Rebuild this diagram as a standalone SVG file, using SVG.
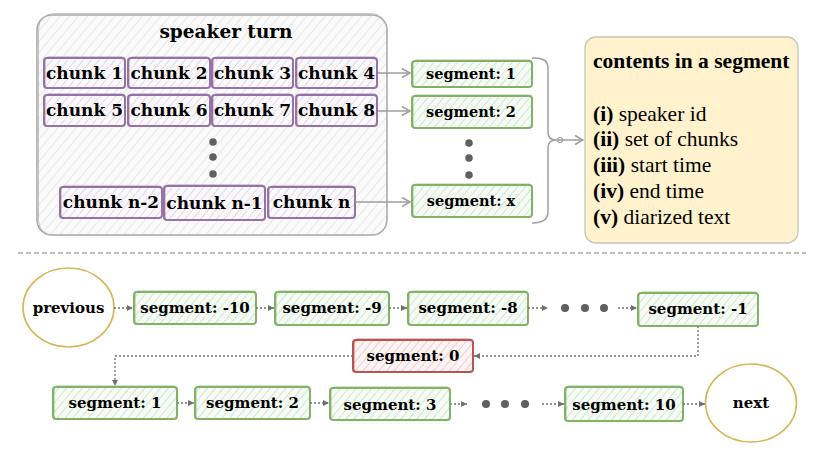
<svg xmlns="http://www.w3.org/2000/svg" width="827" height="463" viewBox="0 0 827 463">
<style>
  text { font-family: "DejaVu Serif", "Liberation Serif", serif; font-weight: bold; fill: #000; }
  .c { font-size: 17px; text-anchor: middle; }
  .t { font-size: 18.5px; text-anchor: middle; }
  .st { font-size: 14.5px; text-anchor: middle; }
  .sb { font-size: 15px; text-anchor: middle; }
  .ct { font-family: "Liberation Serif", "Times New Roman", serif; font-size: 21.5px; font-weight: normal; }
  .ct .b { font-weight: bold; }
  .chunk { fill: url(#hp); stroke: #9673a6; stroke-width: 2; }
  .seg { fill: url(#hg); stroke: #82b366; stroke-width: 2; }
  .red { fill: url(#hr); stroke: #b85450; stroke-width: 2; }
  .sk { fill: none; stroke-width: 1; opacity: 0.7; }
  .dot { fill: #606060; }
  .gl { fill: none; stroke: #9e9e9e; stroke-width: 1.5; }
  .dl { fill: none; stroke: #707070; stroke-width: 1.3; stroke-dasharray: 2 2; }
  .ell { fill: #fff; stroke: #d6b656; stroke-width: 1.6; }
</style>
<defs>
  <pattern id="hgray" patternUnits="userSpaceOnUse" width="7" height="7" patternTransform="rotate(40)">
    <rect width="7" height="7" fill="#fafafa"/>
    <line x1="0" y1="0" x2="0" y2="7" stroke="#dedede" stroke-width="1.2"/>
  </pattern>
  <pattern id="hp" patternUnits="userSpaceOnUse" width="6" height="6" patternTransform="rotate(40)">
    <rect width="6" height="6" fill="#fbf9fc"/>
    <line x1="0" y1="0" x2="0" y2="6" stroke="#d6c8de" stroke-width="1.3"/>
  </pattern>
  <pattern id="hg" patternUnits="userSpaceOnUse" width="6" height="6" patternTransform="rotate(40)">
    <rect width="6" height="6" fill="#f6fbf5"/>
    <line x1="0" y1="0" x2="0" y2="6" stroke="#bfdcb9" stroke-width="1.3"/>
  </pattern>
  <pattern id="hr" patternUnits="userSpaceOnUse" width="6" height="6" patternTransform="rotate(40)">
    <rect width="6" height="6" fill="#fdf5f5"/>
    <line x1="0" y1="0" x2="0" y2="6" stroke="#efb6b3" stroke-width="1.3"/>
  </pattern>
  <marker id="oa" markerWidth="12" markerHeight="12" refX="10" refY="6" orient="auto" markerUnits="userSpaceOnUse">
    <path d="M2,1.5 L10,6 L2,10.5" fill="none" stroke="#9e9e9e" stroke-width="1.5"/>
  </marker>
  <marker id="fa" markerWidth="8" markerHeight="8" refX="7" refY="4" orient="auto" markerUnits="userSpaceOnUse">
    <path d="M1,1 L7,4 L1,7 Z" fill="#707070"/>
  </marker>
</defs>

<!-- speaker turn container -->
<g id="speaker-turn">
  <rect x="37" y="15" width="350" height="220" rx="15" fill="url(#hgray)" stroke="#a8a8a8" stroke-width="1.5"/>
  <rect x="38.5" y="13.5" width="348" height="222" rx="15" fill="none" stroke="#b8b8b8" stroke-width="0.8"/>
  <text x="226" y="38" class="t">speaker turn</text>
</g>

<g id="chunk1"><rect x="44" y="58" width="81" height="30" rx="3" class="chunk"/><rect x="45" y="57" width="80" height="31" rx="3" class="sk" stroke="#9673a6"/><text x="84.5" y="79" class="c">chunk 1</text></g>
<g id="chunk2"><rect x="128" y="58" width="82" height="30" rx="3" class="chunk"/><rect x="129" y="57" width="81" height="31" rx="3" class="sk" stroke="#9673a6"/><text x="169" y="79" class="c">chunk 2</text></g>
<g id="chunk3"><rect x="212" y="58" width="81" height="30" rx="3" class="chunk"/><rect x="213" y="57" width="80" height="31" rx="3" class="sk" stroke="#9673a6"/><text x="252.5" y="79" class="c">chunk 3</text></g>
<g id="chunk4"><rect x="296" y="58" width="81" height="30" rx="3" class="chunk"/><rect x="297" y="57" width="80" height="31" rx="3" class="sk" stroke="#9673a6"/><text x="336.5" y="79" class="c">chunk 4</text></g>
<g id="chunk5"><rect x="44" y="95" width="81" height="31" rx="3" class="chunk"/><rect x="45" y="94" width="80" height="32" rx="3" class="sk" stroke="#9673a6"/><text x="84.5" y="116" class="c">chunk 5</text></g>
<g id="chunk6"><rect x="128" y="95" width="82" height="31" rx="3" class="chunk"/><rect x="129" y="94" width="81" height="32" rx="3" class="sk" stroke="#9673a6"/><text x="169" y="116" class="c">chunk 6</text></g>
<g id="chunk7"><rect x="212" y="95" width="81" height="31" rx="3" class="chunk"/><rect x="213" y="94" width="80" height="32" rx="3" class="sk" stroke="#9673a6"/><text x="252.5" y="116" class="c">chunk 7</text></g>
<g id="chunk8"><rect x="296" y="95" width="81" height="31" rx="3" class="chunk"/><rect x="297" y="94" width="80" height="32" rx="3" class="sk" stroke="#9673a6"/><text x="336.5" y="116" class="c">chunk 8</text></g>
<g id="chunk-dots"><circle cx="213" cy="142" r="3.8" class="dot"/><circle cx="213" cy="157" r="3.8" class="dot"/><circle cx="213" cy="174" r="3.8" class="dot"/></g>
<g id="chunk-n-2"><rect x="60" y="187" width="102" height="31" rx="3" class="chunk"/><rect x="61" y="186" width="101" height="32" rx="3" class="sk" stroke="#9673a6"/><text x="111" y="208" class="c">chunk n-2</text></g>
<g id="chunk-n-1"><rect x="164" y="186" width="101" height="34" rx="3" class="chunk"/><rect x="165" y="185" width="100" height="35" rx="3" class="sk" stroke="#9673a6"/><text x="214.5" y="209" class="c">chunk n-1</text></g>
<g id="chunk-n"><rect x="268" y="187" width="87" height="31" rx="3" class="chunk"/><rect x="269" y="186" width="86" height="32" rx="3" class="sk" stroke="#9673a6"/><text x="311.5" y="208" class="c">chunk n</text></g>

<!-- top segments -->
<g id="tseg1"><rect x="412" y="61" width="120" height="26" rx="3" class="seg"/><rect x="413" y="60" width="119" height="27" rx="3" class="sk" stroke="#82b366"/><text x="471" y="79" class="st">segment: 1</text></g>
<g id="tseg2"><rect x="412" y="96" width="120" height="32" rx="3" class="seg"/><rect x="413" y="95" width="119" height="33" rx="3" class="sk" stroke="#82b366"/><text x="471" y="117" class="st">segment: 2</text></g>
<g id="tseg-dots"><circle cx="469" cy="143" r="3.8" class="dot"/><circle cx="469" cy="158" r="3.8" class="dot"/><circle cx="469" cy="175" r="3.8" class="dot"/></g>
<g id="tsegx"><rect x="412" y="185" width="120" height="32" rx="3" class="seg"/><rect x="413" y="184" width="119" height="33" rx="3" class="sk" stroke="#82b366"/><text x="471" y="206" class="st">segment: x</text></g>

<!-- contents box -->
<g id="contents">
  <rect x="585" y="37" width="213" height="206" rx="11" fill="#fff2cc" stroke="#c9c4b8" stroke-width="1.3"/>
  <text x="593" y="68" class="ct"><tspan class="b">contents in a segment</tspan></text>
  <text x="593" y="121" class="ct"><tspan class="b">(i)</tspan> speaker id</text>
  <text x="593" y="146" class="ct"><tspan class="b">(ii)</tspan> set of chunks</text>
  <text x="593" y="172" class="ct"><tspan class="b">(iii)</tspan> start time</text>
  <text x="593" y="198" class="ct"><tspan class="b">(iv)</tspan> end time</text>
  <text x="593" y="224" class="ct"><tspan class="b">(v)</tspan> diarized text</text>
</g>

<!-- separator -->
<line x1="18" y1="253" x2="806" y2="253" stroke="#a8a8a8" stroke-width="1.3" stroke-dasharray="5 3"/>

<!-- bottom nodes -->
<g id="previous"><ellipse cx="68.5" cy="307.5" rx="45.5" ry="39.5" class="ell"/><text x="68.5" y="313" class="sb">previous</text></g>
<g id="seg-m10"><rect x="134" y="292" width="122" height="32" rx="3" class="seg"/><rect x="135" y="291" width="121" height="33" rx="3" class="sk" stroke="#82b366"/><text x="195" y="313" class="sb">segment: -10</text></g>
<g id="seg-m9"><rect x="275" y="292" width="114" height="33" rx="3" class="seg"/><rect x="276" y="291" width="113" height="34" rx="3" class="sk" stroke="#82b366"/><text x="332" y="313" class="sb">segment: -9</text></g>
<g id="seg-m8"><rect x="408" y="292" width="120" height="33" rx="3" class="seg"/><rect x="409" y="291" width="119" height="34" rx="3" class="sk" stroke="#82b366"/><text x="468" y="313" class="sb">segment: -8</text></g>
<g id="dots-row1"><circle cx="565" cy="308" r="4" class="dot"/><circle cx="585" cy="308" r="4" class="dot"/><circle cx="604" cy="308" r="4" class="dot"/></g>
<g id="seg-m1"><rect x="638" y="293" width="120" height="33" rx="3" class="seg"/><rect x="639" y="292" width="119" height="34" rx="3" class="sk" stroke="#82b366"/><text x="698" y="314" class="sb">segment: -1</text></g>
<g id="seg-0"><rect x="353" y="340" width="120" height="32" rx="3" class="red"/><rect x="354" y="339" width="119" height="33" rx="3" class="sk" stroke="#b85450"/><text x="413" y="361" class="sb">segment: 0</text></g>
<g id="seg-1"><rect x="53" y="387" width="124" height="32" rx="3" class="seg"/><rect x="54" y="386" width="123" height="33" rx="3" class="sk" stroke="#82b366"/><text x="115" y="408" class="sb">segment: 1</text></g>
<g id="seg-2"><rect x="195" y="387" width="115" height="32" rx="3" class="seg"/><rect x="196" y="386" width="114" height="33" rx="3" class="sk" stroke="#82b366"/><text x="252.5" y="408" class="sb">segment: 2</text></g>
<g id="seg-3"><rect x="330" y="388" width="120" height="32" rx="3" class="seg"/><rect x="331" y="387" width="119" height="33" rx="3" class="sk" stroke="#82b366"/><text x="390" y="410" class="sb">segment: 3</text></g>
<g id="dots-row3"><circle cx="486" cy="404" r="4" class="dot"/><circle cx="505" cy="404" r="4" class="dot"/><circle cx="525" cy="404" r="4" class="dot"/></g>
<g id="seg-10"><rect x="565" y="387" width="118" height="34" rx="3" class="seg"/><rect x="566" y="386" width="117" height="35" rx="3" class="sk" stroke="#82b366"/><text x="624" y="410" class="sb">segment: 10</text></g>
<g id="next"><ellipse cx="751" cy="403" rx="45.5" ry="39" class="ell"/><text x="751" y="408" class="sb">next</text></g>

<!-- connectors -->
<g id="connectors">
  <path d="M378,73 L410,73" class="gl" marker-end="url(#oa)"/>
  <path d="M378,111 L410,111" class="gl" marker-end="url(#oa)"/>
  <path d="M355,202 L410,202" class="gl" marker-end="url(#oa)"/>
  <path d="M532,58 Q548,57 548,68 L548,132 Q548,140 556,140 Q548,140 548,148 L548,212 Q548,223 532,223" class="gl"/>
  <circle cx="560" cy="140" r="2.5" fill="none" stroke="#9e9e9e" stroke-width="1.2"/>
  <path d="M556,140 L583,140" class="gl" marker-end="url(#oa)"/>

  <path d="M114,308 L133,308" class="dl" marker-end="url(#fa)"/>
  <path d="M256,308 L274,308" class="dl" marker-end="url(#fa)"/>
  <path d="M389,308 L407,308" class="dl" marker-end="url(#fa)"/>
  <path d="M528,308 L548,308" class="dl" marker-end="url(#fa)"/>
  <path d="M618,308 L637,308" class="dl" marker-end="url(#fa)"/>
  <path d="M698,326 L698,356 L474,356" class="dl" marker-end="url(#fa)"/>
  <path d="M353,356 L115,356 L115,386" class="dl" marker-end="url(#fa)"/>
  <path d="M177,403 L194,403" class="dl" marker-end="url(#fa)"/>
  <path d="M310,403 L329,403" class="dl" marker-end="url(#fa)"/>
  <path d="M450,404 L467,404" class="dl" marker-end="url(#fa)"/>
  <path d="M542,404 L564,404" class="dl" marker-end="url(#fa)"/>
  <path d="M683,404 L705,404" class="dl" marker-end="url(#fa)"/>
</g>
</svg>
